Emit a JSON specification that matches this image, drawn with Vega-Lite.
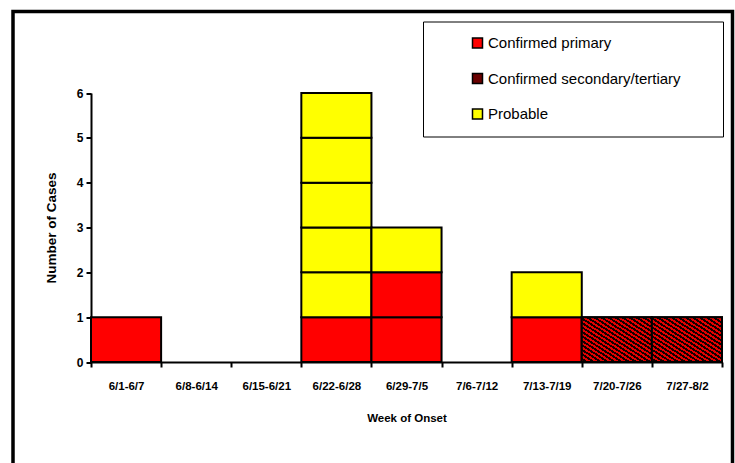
{
  "$schema": "https://vega.github.io/schema/vega-lite/v6.json",
  "width": 719.5,
  "height": 470,
  "autosize": "none",
  "padding": {"left": 13, "top": 11.5, "right": 2.5, "bottom": 0},
  "background": "white",
  "config": {
    "font": "Liberation Sans",
    "view": {"stroke": "black", "strokeWidth": 3.5}
  },
  "data": {
    "values": [
      {"week": "6/1-6/7", "type": "Confirmed primary", "ord": 1, "cases": 1},
      {"week": "6/22-6/28", "type": "Confirmed primary", "ord": 1, "cases": 1},
      {"week": "6/22-6/28", "type": "Probable", "ord": 3, "cases": 1},
      {"week": "6/22-6/28", "type": "Probable", "ord": 3, "cases": 1},
      {"week": "6/22-6/28", "type": "Probable", "ord": 3, "cases": 1},
      {"week": "6/22-6/28", "type": "Probable", "ord": 3, "cases": 1},
      {"week": "6/22-6/28", "type": "Probable", "ord": 3, "cases": 1},
      {"week": "6/29-7/5", "type": "Confirmed primary", "ord": 1, "cases": 1},
      {"week": "6/29-7/5", "type": "Confirmed primary", "ord": 1, "cases": 1},
      {"week": "6/29-7/5", "type": "Probable", "ord": 3, "cases": 1},
      {"week": "7/13-7/19", "type": "Confirmed primary", "ord": 1, "cases": 1},
      {"week": "7/13-7/19", "type": "Probable", "ord": 3, "cases": 1},
      {"week": "7/20-7/26", "type": "Confirmed secondary/tertiary", "ord": 2, "cases": 1},
      {"week": "7/27-8/2", "type": "Confirmed secondary/tertiary", "ord": 2, "cases": 1}
    ]
  },
  "encoding": {
    "x": {
      "field": "week", "type": "nominal",
      "scale": {"domain": ["6/1-6/7", "6/8-6/14", "6/15-6/21", "6/22-6/28", "6/29-7/5", "7/6-7/12", "7/13-7/19", "7/20-7/26", "7/27-8/2"], "range": [78, 709], "paddingInner": 0, "paddingOuter": 0},
      "axis": {"title": "Week of Onset", "offset": -119.5, "labelAngle": 0, "labelPadding": 13, "titlePadding": 21, "tickBand": "extent",
        "domainColor": "black", "domainWidth": 2, "tickColor": "black", "tickWidth": 2, "tickSize": 5, "grid": false,
        "labelColor": "black", "titleColor": "black", "labelFontWeight": "bold", "labelFontSize": 11.5, "titleFontWeight": "bold", "titleFontSize": 11.5, "labelFont": "Liberation Sans", "titleFont": "Liberation Sans"}
    },
    "y": {
      "field": "cases", "type": "quantitative", "stack": "zero",
      "scale": {"domain": [0, 6], "range": [350.5, 81.5], "nice": false, "zero": true},
      "axis": {"title": "Number of Cases", "offset": -78, "values": [0, 1, 2, 3, 4, 5, 6], "labelPadding": 3, "titlePadding": 18,
        "domainColor": "black", "domainWidth": 2, "tickColor": "black", "tickWidth": 2, "tickSize": 5, "grid": false,
        "labelColor": "black", "titleColor": "black", "labelFontWeight": "bold", "labelFontSize": 12, "titleFontWeight": "bold", "titleFontSize": 13.5, "labelFont": "Liberation Sans", "titleFont": "Liberation Sans"}
    },
    "order": {"field": "ord", "type": "quantitative"}
  },
  "layer": [
    {
      "mark": {"type": "bar", "stroke": "black", "strokeWidth": 2, "opacity": 1, "fillOpacity": 1},
      "encoding": {
        "color": {
          "field": "type", "type": "nominal",
          "scale": {"domain": ["Confirmed primary", "Confirmed secondary/tertiary", "Probable"], "range": ["#ff0000", "#6a0000", "#ffff00"]},
          "legend": {
            "orient": "none", "legendX": 410, "legendY": 10,
            "title": "MMM", "titleOrient": "right", "titleOpacity": 0, "titleFontSize": 11, "titleFont": "Liberation Sans", "titlePadding": 0,
            "strokeColor": "black", "padding": 14,
            "symbolType": "square", "symbolSize": 100, "symbolStrokeColor": "black", "symbolStrokeWidth": 1.5, "symbolOpacity": 1,
            "labelFontSize": 15, "labelFont": "Liberation Sans", "labelColor": "black", "labelLimit": 400,
            "rowPadding": 18.5, "symbolOffset": 33, "labelOffset": 3
          }
        }
      }
    },
    {
      "transform": [{"filter": "datum.type === 'Confirmed secondary/tertiary'"}],
      "mark": {"type": "bar", "stroke": "black", "strokeWidth": 2, "opacity": 1, "fillOpacity": 1,
        "fill": {"gradient": "linear", "x1": 0, "y1": 1, "x2": 1, "y2": 0, "stops": [
          {"offset": 0, "color": "#e60000"}, {"offset": 0.025, "color": "#e60000"}, {"offset": 0.025, "color": "#140000"}, {"offset": 0.05, "color": "#140000"},
          {"offset": 0.05, "color": "#e60000"}, {"offset": 0.075, "color": "#e60000"}, {"offset": 0.075, "color": "#140000"}, {"offset": 0.1, "color": "#140000"},
          {"offset": 0.1, "color": "#e60000"}, {"offset": 0.125, "color": "#e60000"}, {"offset": 0.125, "color": "#140000"}, {"offset": 0.15, "color": "#140000"},
          {"offset": 0.15, "color": "#e60000"}, {"offset": 0.175, "color": "#e60000"}, {"offset": 0.175, "color": "#140000"}, {"offset": 0.2, "color": "#140000"},
          {"offset": 0.2, "color": "#e60000"}, {"offset": 0.225, "color": "#e60000"}, {"offset": 0.225, "color": "#140000"}, {"offset": 0.25, "color": "#140000"},
          {"offset": 0.25, "color": "#e60000"}, {"offset": 0.275, "color": "#e60000"}, {"offset": 0.275, "color": "#140000"}, {"offset": 0.3, "color": "#140000"},
          {"offset": 0.3, "color": "#e60000"}, {"offset": 0.325, "color": "#e60000"}, {"offset": 0.325, "color": "#140000"}, {"offset": 0.35, "color": "#140000"},
          {"offset": 0.35, "color": "#e60000"}, {"offset": 0.375, "color": "#e60000"}, {"offset": 0.375, "color": "#140000"}, {"offset": 0.4, "color": "#140000"},
          {"offset": 0.4, "color": "#e60000"}, {"offset": 0.425, "color": "#e60000"}, {"offset": 0.425, "color": "#140000"}, {"offset": 0.45, "color": "#140000"},
          {"offset": 0.45, "color": "#e60000"}, {"offset": 0.475, "color": "#e60000"}, {"offset": 0.475, "color": "#140000"}, {"offset": 0.5, "color": "#140000"},
          {"offset": 0.5, "color": "#e60000"}, {"offset": 0.525, "color": "#e60000"}, {"offset": 0.525, "color": "#140000"}, {"offset": 0.55, "color": "#140000"},
          {"offset": 0.55, "color": "#e60000"}, {"offset": 0.575, "color": "#e60000"}, {"offset": 0.575, "color": "#140000"}, {"offset": 0.6, "color": "#140000"},
          {"offset": 0.6, "color": "#e60000"}, {"offset": 0.625, "color": "#e60000"}, {"offset": 0.625, "color": "#140000"}, {"offset": 0.65, "color": "#140000"},
          {"offset": 0.65, "color": "#e60000"}, {"offset": 0.675, "color": "#e60000"}, {"offset": 0.675, "color": "#140000"}, {"offset": 0.7, "color": "#140000"},
          {"offset": 0.7, "color": "#e60000"}, {"offset": 0.725, "color": "#e60000"}, {"offset": 0.725, "color": "#140000"}, {"offset": 0.75, "color": "#140000"},
          {"offset": 0.75, "color": "#e60000"}, {"offset": 0.775, "color": "#e60000"}, {"offset": 0.775, "color": "#140000"}, {"offset": 0.8, "color": "#140000"},
          {"offset": 0.8, "color": "#e60000"}, {"offset": 0.825, "color": "#e60000"}, {"offset": 0.825, "color": "#140000"}, {"offset": 0.85, "color": "#140000"},
          {"offset": 0.85, "color": "#e60000"}, {"offset": 0.875, "color": "#e60000"}, {"offset": 0.875, "color": "#140000"}, {"offset": 0.9, "color": "#140000"},
          {"offset": 0.9, "color": "#e60000"}, {"offset": 0.925, "color": "#e60000"}, {"offset": 0.925, "color": "#140000"}, {"offset": 0.95, "color": "#140000"},
          {"offset": 0.95, "color": "#e60000"}, {"offset": 0.975, "color": "#e60000"}, {"offset": 0.975, "color": "#140000"}, {"offset": 1, "color": "#140000"}
        ]}
      }
    }
  ]
}
